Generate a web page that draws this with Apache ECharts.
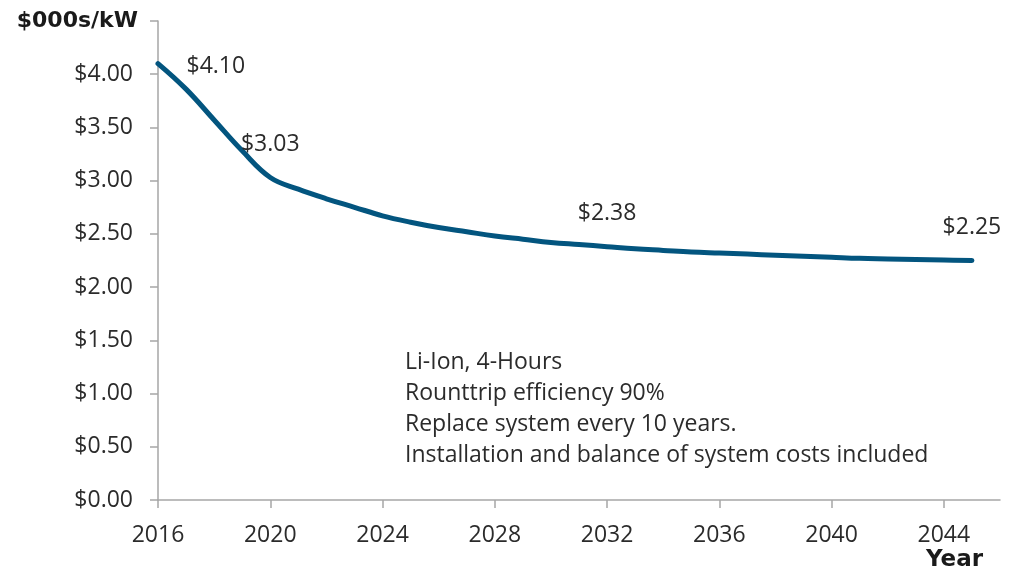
<!DOCTYPE html>
<html>
<head>
<meta charset="utf-8">
<script src="https://cdn.jsdelivr.net/npm/echarts@6/dist/echarts.min.js"></script>
<style>
  html, body { margin: 0; padding: 0; background: #fff; }
  #chart { width: 1009px; height: 574px; }
</style>
</head>
<body>
<div id="chart"></div>
<script>
var years = [2016, 2017, 2018, 2019, 2020, 2021, 2022, 2023, 2024, 2025,
             2026, 2027, 2028, 2029, 2030, 2031, 2032, 2033, 2034, 2035,
             2036, 2037, 2038, 2039, 2040, 2041, 2042, 2043, 2044, 2045];
var costs = [4.10, 3.86, 3.57, 3.28, 3.03, 2.92, 2.83, 2.75, 2.67, 2.61,
             2.56, 2.52, 2.48, 2.45, 2.42, 2.40, 2.38, 2.36, 2.345, 2.33,
             2.32, 2.31, 2.30, 2.29, 2.28, 2.27, 2.265, 2.26, 2.255, 2.25];
var labeledYears = [2016, 2020, 2032, 2045];
var xTickLabels = [2016, 2020, 2024, 2028, 2032, 2036, 2040, 2044];
var notes = [
  'Li-Ion, 4-Hours',
  'Rounttrip efficiency 90%',
  'Replace system every 10 years.',
  'Installation and balance of system costs included'
];
var yUnit = '$000s/kW';
var xName = 'Year';

var FONT = '"Open Sans", Lato, sans-serif';
var BFONT = '"DejaVu Sans", "Open Sans", sans-serif';
var TXT = '#2b2b2b';

var seriesData = years.map(function (y, i) {
  var item = { value: [y, costs[i]] };
  if (labeledYears.indexOf(y) >= 0) {
    item.label = { show: true, position: 'top', distance: 21 };
    if (i === 0) {
      item.label = { show: true, position: 'right', distance: 28, offset: [0, 3] };
    }
  }
  return item;
});

var chart = echarts.init(document.getElementById('chart'));
chart.setOption({
  animation: false,
  backgroundColor: '#ffffff',
  grid: { left: 158, right: 9, top: 21, bottom: 74 },
  xAxis: {
    type: 'value',
    min: 2016,
    max: 2046,
    interval: 4,
    splitLine: { show: false },
    axisLine: { show: true, lineStyle: { color: '#a6a6a6', width: 1.5 } },
    axisTick: { show: true, length: 8, lineStyle: { color: '#a6a6a6', width: 1.5 }, customValues: xTickLabels },
    axisLabel: {
      customValues: xTickLabels,
      color: TXT, fontFamily: FONT, fontSize: 23, margin: 24,
      formatter: function (v) { return String(v); }
    }
  },
  yAxis: {
    type: 'value',
    min: 0,
    max: 4.5,
    interval: 0.5,
    splitLine: { show: false },
    axisLine: { show: true, lineStyle: { color: '#a6a6a6', width: 1.5 } },
    axisTick: { show: true, length: 8, lineStyle: { color: '#a6a6a6', width: 1.5 } },
    axisLabel: {
      color: TXT, fontFamily: FONT, fontSize: 23, margin: 25,
      formatter: function (v) {
        if (v >= 4.5) return '{u|' + yUnit + '}';
        return '$' + v.toFixed(2);
      },
      rich: {
        u: { fontFamily: BFONT, fontSize: 22, fontWeight: 'bold', color: '#1a1a1a', padding: [0, -5, 0, 0] }
      }
    }
  },
  series: [{
    type: 'line',
    data: seriesData,
    smooth: 0.4,
    symbol: 'circle',
    symbolSize: 1,
    showAllSymbol: true,
    itemStyle: { color: '#03557f' },
    lineStyle: { color: '#03557f', width: 5, cap: 'round' },
    label: {
      show: false,
      color: TXT, fontFamily: FONT, fontSize: 23,
      formatter: function (p) { return '$' + p.value[1].toFixed(2); }
    }
  }],
  graphic: [
    {
      type: 'text', left: 405, top: 347,
      style: { text: notes.join('\n'), fill: TXT, font: '23px ' + FONT, lineHeight: 31 }
    },
    {
      type: 'text', right: 26, top: 549,
      style: { text: xName, fill: '#1a1a1a', font: 'bold 23px ' + BFONT }
    }
  ]
});
</script>
</body>
</html>
